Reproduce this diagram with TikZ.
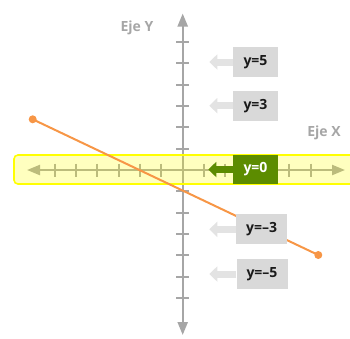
\documentclass[tikz,border=0pt]{standalone}
\usepackage{fontspec}
\setmainfont{Open Sans}
\usetikzlibrary{arrows.meta,calc}
\definecolor{axisgray}{HTML}{A6A6A6}
\definecolor{bandyellow}{HTML}{FFFF00}
\definecolor{lineorange}{HTML}{F79646}
\definecolor{labgreen}{HTML}{5C8C00}
\definecolor{boxgray}{HTML}{D9D9D9}
\definecolor{arrgray}{HTML}{E3E3E3}
\definecolor{txtdark}{HTML}{1A1A1A}
\tikzset{
  axisline/.style={draw=axisgray, line width=2.2pt, -{Triangle[length=13pt,width=10pt]}},
  tickline/.style={draw=axisgray, line width=2pt},
  labbox/.style={fill=boxgray, minimum height=30pt, inner sep=0pt, text=txtdark, font=\fontsize{14}{14}\selectfont\bfseries},
  greenbox/.style={fill=labgreen, minimum height=29pt, minimum width=45pt, inner sep=0pt, text=white, font=\fontsize{14}{14}\selectfont\bfseries},
  labarrow/.style={draw=arrgray, line width=7pt, -{Triangle[length=8pt,width=15pt]}},
  greenarrow/.style={draw=labgreen, line width=7pt, -{Triangle[length=8pt,width=15pt]}},
  axislabel/.style={text=axisgray, font=\fontsize{14}{14}\selectfont\bfseries, inner sep=0pt},
  enddot/.style={fill=lineorange, circle, inner sep=0pt, minimum size=8pt}
}
\begin{document}
\begin{tikzpicture}[x=1pt,y=-1pt]
\useasboundingbox (0,0) rectangle (350,338);
% axes
\coordinate (o) at (182.7,170);
\coordinate (ytop) at (182.7,13.5);
\coordinate (ybot) at (182.7,335);
\coordinate (xleft) at (27,170);
\coordinate (xright) at (345,170);
\draw[axisline] (o) -- (ytop);
\draw[axisline] (o) -- (ybot);
\draw[axisline] (o) -- (xleft);
\draw[axisline] (o) -- (xright);
\foreach \k in {-6,...,6}{
  \draw[tickline] ($(o)+(\k*21.33,-6.5)$) -- ++(0,13);
  \draw[tickline] ($(o)+(-6.5,\k*21.33)$) -- ++(13,0);
}
% highlight band
\fill[bandyellow, fill opacity=0.25, rounded corners=4pt] (14,155) rectangle (360,184);
\draw[bandyellow, line width=1.6pt, rounded corners=4pt] (14,155) rectangle (360,184);
% orange line
\node[enddot] (p1) at (32.7,119.3) {};
\node[enddot] (p2) at (318.3,255) {};
\draw[lineorange, line width=2pt] (p1.center) -- (p2.center);
% labels
\node[labbox, minimum width=45pt] (b5) at (255.5,62) {y=5};
\node[labbox, minimum width=45pt] (b3) at (255.5,105.7) {y=3};
\node[greenbox] (b0) at (255.5,169.5) {y=0};
\node[labbox, minimum width=51pt] (bm3) at (261.7,229.3) {y=–3};
\node[labbox, minimum width=51pt] (bm5) at (262,274) {y=–5};
\coordinate (t5) at (209.3,62);
\coordinate (t3) at (209.3,105.7);
\coordinate (t0) at (208.3,169.5);
\coordinate (tm3) at (209.3,229.3);
\coordinate (tm5) at (209.3,274);
\draw[labarrow] (b5.west) -- (t5);
\draw[labarrow] (b3.west) -- (t3);
\draw[greenarrow] (b0.west) -- (t0);
\draw[labarrow] (bm3.west) -- (tm3);
\draw[labarrow] (bm5.west) -- (tm5);
\node[axislabel] (ey) at (137,28) {Eje Y};
\node[axislabel] (ex) at (324,133) {Eje X};
\end{tikzpicture}
\end{document}
